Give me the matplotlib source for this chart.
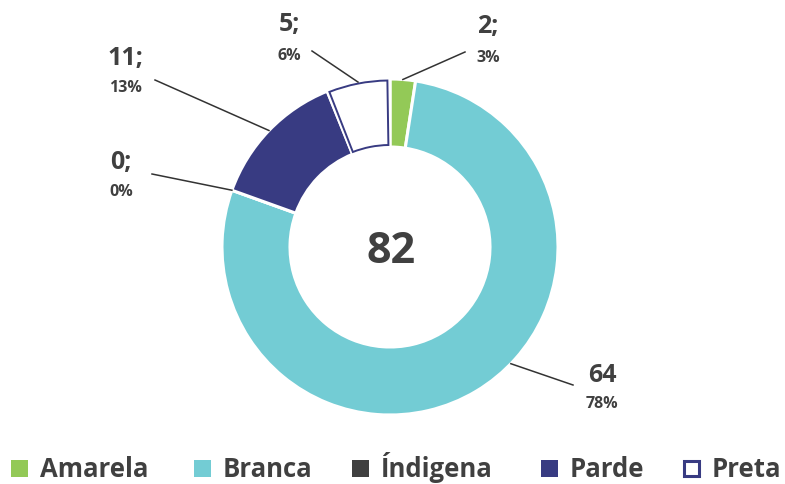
import numpy as np
import matplotlib
matplotlib.use("Agg")
import matplotlib.pyplot as plt
from matplotlib.patches import Wedge, Rectangle

plt.rcParams['font.family'] = ['Open Sans', 'DejaVu Sans']

# data
categories = ['Amarela', 'Branca', 'Índigena', 'Parde', 'Preta']
values = [2, 64, 0, 11, 5]
percents = ['3%', '78%', '0%', '13%', '6%']
value_labels = ['2;', '64', '0;', '11;', '5;']

colors = ['#93C957', '#73CCD4', '#404040', '#383B82', '#FFFFFF']
navy = '#383B82'
text_color = '#404040'

W, H = 785, 484
cx, cy = 390, H - 247
r_out, ring = 168, 68

# label layout (pixel coords, y from top): text centre x, value y, percent y, line end
label_pos = {
    'Amarela': (488, 27, 58, (465, 52)),
    'Branca': (602, 376, 404, (573, 385)),
    'Índigena': (121, 163, 192, (152, 174)),
    'Parde': (125, 58, 88, (155, 80)),
    'Preta': (289, 25, 56, (312, 51)),
}
# anchor angle override (deg) where the leader line does not start at the slice middle
anchor_override = {'Branca': -44.0}

fig = plt.figure(figsize=(W / 100, H / 100), dpi=100)
ax = fig.add_axes([0, 0, 1, 1])

wedges, _ = ax.pie(values, colors=colors, startangle=90, counterclock=False,
                   radius=r_out, center=(cx, cy),
                   wedgeprops=dict(width=ring, edgecolor='white', linewidth=2.2))
ax.set_xlim(0, W)
ax.set_ylim(0, H)
ax.axis('off')

# outlined (white) slice for Preta
pw = wedges[categories.index('Preta')]
ax.add_patch(Wedge((cx, cy), r_out - 1.5, pw.theta1 + 0.9, pw.theta2 - 0.6,
                   width=ring - 3.5, facecolor='white', edgecolor=navy,
                   linewidth=1.4, zorder=3))

# total in the middle
ax.text(cx + 1, H - 263, str(sum(values)), ha='center', va='baseline', fontsize=31,
        fontweight='bold', color=text_color)

# labels with leader lines
for cat, w, vl, pc in zip(categories, wedges, value_labels, percents):
    tx, vy, py, (lx, ly) = label_pos[cat]
    ang = anchor_override.get(cat, (w.theta1 + w.theta2) / 2)
    ax_, ay_ = cx + r_out * np.cos(np.radians(ang)), cy + r_out * np.sin(np.radians(ang))
    ax.plot([ax_, lx], [ay_, H - ly], color='#333333', linewidth=1.1, zorder=4)
    ax.text(tx, H - vy, vl, ha='center', va='center', fontsize=18,
            fontweight='bold', color=text_color)
    ax.text(tx, H - py, pc, ha='center', va='center', fontsize=11.5,
            fontweight='bold', color=text_color)

# legend drawn by hand
legend_x = [11, 194, 352, 541, 683]
sq = 17
base = 477
for x0, cat, col in zip(legend_x, categories, colors):
    if cat == 'Preta':
        ax.add_patch(Rectangle((x0 + 1, H - base + 1), sq - 2, sq - 2, facecolor='white',
                               edgecolor=navy, linewidth=2.2))
    else:
        ax.add_patch(Rectangle((x0, H - base), sq, sq, facecolor=col, edgecolor='none'))
    ax.text(x0 + 29, H - base, cat, ha='left', va='baseline', fontsize=18.5,
            fontweight='bold', color=text_color)

fig.savefig('out.png', dpi=100)
